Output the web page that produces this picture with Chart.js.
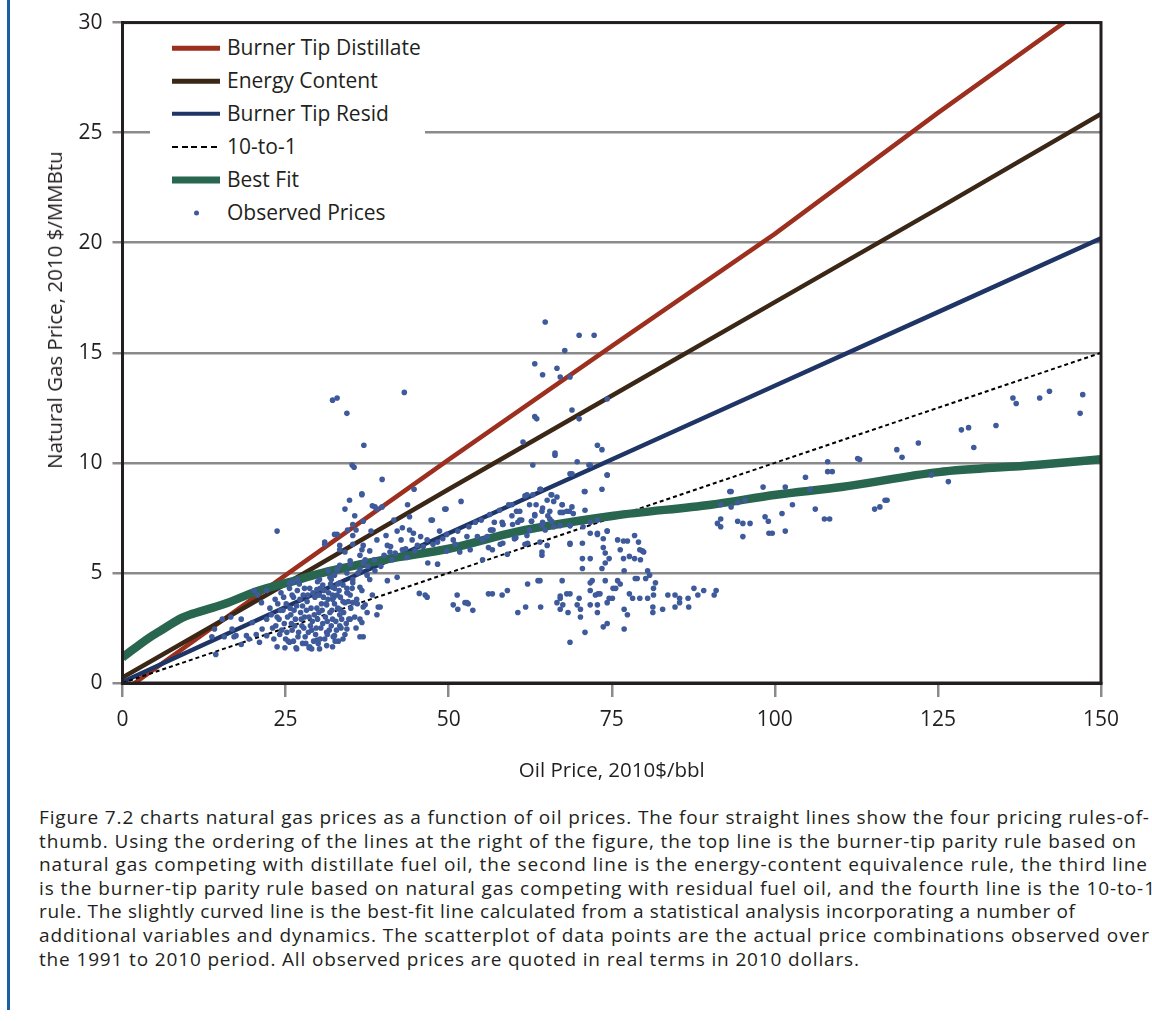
<!DOCTYPE html>
<html>
<head>
<meta charset="utf-8">
<title>Natural gas vs oil prices</title>
<script src="https://cdn.jsdelivr.net/npm/chart.js@4.4.1/dist/chart.umd.min.js"></script>
<style>
  html, body { margin: 0; padding: 0; background: #fff; }
  body { width: 1152px; height: 1021px; position: relative; overflow: hidden; font-family: "Open Sans", sans-serif; color: #231f20; }
  #rule { position: absolute; left: 7px; top: 0; width: 3px; height: 1010px; background: #1d5ea8; }
  #wrap { position: absolute; left: 0; top: 0; width: 1152px; height: 800px; }
  #yTitle { position: absolute; left: 54px; top: 310px; transform: translate(-50%, -50%) rotate(-90deg); white-space: nowrap; font-size: 20.5px; }
  #legend { position: absolute; left: 150px; top: 30px; width: 275px; height: 198px; background: #fff; }
  #legend .row { position: absolute; left: 0; width: 275px; height: 30px; }
  #legend .swatch { position: absolute; left: 22px; width: 48px; top: 50%; transform: translateY(-50%); }
  #legend .dot { position: absolute; left: 44px; top: 50%; width: 5px; height: 5px; border-radius: 50%; transform: translateY(-50%); }
  #legend .label { position: absolute; left: 77px; top: 50%; transform: translateY(-54%); font-size: 21px; white-space: nowrap; }
  #caption { position: absolute; left: 39px; top: 806px; font-size: 19px; line-height: 23.6px; }
  #caption div { white-space: nowrap; }
</style>
</head>
<body>
<div id="rule"></div>
<div id="wrap"><canvas id="chart" width="1152" height="800"></canvas></div>
<div id="yTitle">Natural Gas Price, 2010 $/MMBtu</div>
<div id="legend"></div>
<div id="caption">
  <div data-w="1110">Figure 7.2 charts natural gas prices as a function of oil prices. The four straight lines show the four pricing rules-of-</div>
  <div data-w="1097">thumb. Using the ordering of the lines at the right of the figure, the top line is the burner-tip parity rule based on</div>
  <div data-w="1108">natural gas competing with distillate fuel oil, the second line is the energy-content equivalence rule, the third line</div>
  <div data-w="1116">is the burner-tip parity rule based on natural gas competing with residual fuel oil, and the fourth line is the 10-to-1</div>
  <div data-w="1036">rule. The slightly curved line is the best-fit line calculated from a statistical analysis incorporating a number of</div>
  <div data-w="1110">additional variables and dynamics. The scatterplot of data points are the actual price combinations observed over</div>
  <div data-w="820">the 1991 to 2010 period. All observed prices are quoted in real terms in 2010 dollars.</div>
</div>
<script>
const ruleOil = [0, 25, 50, 75, 100, 125, 150];
const distillateGas = [-0.4, 4.9, 10.15, 15.3, 20.4, 25.9, 31.2];
const energyGas = [0.25, 4.5, 8.8, 13.05, 17.3, 21.55, 25.85];
const residGas = [0.05, 3.45, 6.8, 10.15, 13.5, 16.85, 20.2];
const tenToOneGas = [0, 2.5, 5, 7.5, 10, 12.5, 15];

const bestFitOil = [0, 4.1, 5.6, 9.1, 10.7, 15.6, 20.7, 25.6, 30.5, 40.5, 50.2, 60.5, 75.3, 90.2, 100.2, 110.2, 125.1, 140, 150];
const bestFitGas = [1.16, 2.06, 2.33, 2.96, 3.14, 3.59, 4.18, 4.58, 4.99, 5.62, 6.11, 6.88, 7.6, 8.1, 8.55, 8.9, 9.58, 9.9, 10.17];

const seriesNames = ['Burner Tip Distillate', 'Energy Content', 'Burner Tip Resid', '10-to-1', 'Best Fit', 'Observed Prices'];

// [oil $/bbl, gas $/MMBtu]
const observedPrices = [
  [64.8,16.4],[70.0,15.8],[72.3,15.8],[67.8,15.1],[63.2,14.5],[64.4,14.0],[66.6,14.3],[67.1,13.9],[68.6,13.9],[74.3,12.9],
  [68.9,12.4],[70.0,12.0],[63.2,12.1],[63.5,12.0],[61.4,10.95],[72.8,10.8],[73.5,10.6],[66.3,10.45],[66.3,10.35],[62.9,9.9],
  [69.7,10.05],[71.7,9.9],[68.6,9.5],[74.3,9.45],[70.8,8.7],[73.5,8.8],
  [43.2,13.2],[32.2,12.85],[32.9,12.95],[34.4,12.25],[37.0,10.8],[35.2,9.9],[35.5,9.8],[39.8,9.25],[36.7,8.6],[44.7,8.8],
  [51.9,8.25],[49.6,7.9],[43.7,8.1],[38.3,8.05],[39.8,8.0],[23.7,6.9],[36.7,8.55],[38.7,8.0],[39.0,7.9],
  [62.0,8.55],[62.9,8.55],[64.0,8.8],[65.7,8.55],[66.6,8.45],[65.1,8.3],[67.4,8.1],[66.1,8.25],[64.4,7.95],[62.4,8.1],
  [60.9,7.8],[59.7,8.1],[56.3,7.65],[57.8,7.85],[63.2,7.65],[65.2,7.6],[68.5,7.8],[69.1,7.7],[67.5,7.75],[70.9,7.85],
  [55.0,7.4],[57.0,7.3],[59.8,7.2],[61.2,7.4],[62.7,7.35],[64.4,7.3],[65.8,7.35],[67.1,7.15],[68.6,7.15],[70.6,7.1],
  [71.7,7.3],[72.8,7.4],[56.6,6.95],[58.3,7.2],[62.4,6.95],[55.2,6.5],[56.7,6.05],[58.3,6.35],[60.1,6.55],[62.1,6.35],
  [64.3,5.8],[65.1,6.25],[68.6,6.35],[71.7,6.8],[72.8,6.75],[74.3,6.9],[55.2,5.6],[59.0,5.85],
  [61.7,8.5],[64.1,8.8],[65.8,8.55],[59.2,8.1],[60.4,7.8],[63.4,8.1],[67.4,8.1],[68.9,8.0],[64.3,7.8],[65.5,7.8],
  [67.1,7.75],[68.1,7.8],[59.7,7.6],[60.9,7.4],[62.7,7.35],[65.5,7.45],[58.3,7.2],[60.6,7.3],[63.2,7.6],[64.3,7.15],
  [66.1,7.1],[68.6,7.15],[62.0,6.7],[60.1,6.55],[61.7,6.3],[64.0,6.4],[64.3,5.95],[68.6,6.3],[70.5,6.35],[64.8,6.95],
  [70.9,8.7],[68.9,9.5],[71.5,9.9],[74.3,9.45],
  [72.8,6.8],[74.3,6.9],[73.7,6.55],[75.9,6.5],[76.8,6.45],[77.4,6.45],[78.5,6.7],[79.1,6.4],[79.3,6.05],[79.9,5.95],
  [76.3,6.05],[73.7,6.15],[74.0,5.9],[70.5,5.65],[71.7,5.65],[74.6,5.65],[76.8,5.65],[77.7,5.75],[78.5,5.65],[79.4,5.6],
  [79.7,6.0],[74.0,5.45],[73.5,5.2],[70.5,5.2],[76.9,5.1],[80.5,5.1],[80.8,4.9],[78.6,4.75],[78.9,4.75],[80.2,4.75],
  [81.7,4.55],[75.9,4.65],[76.3,4.5],[71.7,4.55],[72.0,4.65],[74.0,4.65],[81.4,4.3],[67.4,4.65],[63.7,4.65],[64.0,4.65],
  [62.1,4.5],[59.0,4.2],[56.7,4.05],
  [87.6,4.3],[89.1,4.2],[91.0,4.2],[90.7,4.0],[88.2,4.0],[86.7,3.85],[85.4,3.85],[84.7,4.0],[83.6,4.0],[81.4,4.0],
  [80.5,3.85],[79.3,3.85],[78.2,3.85],[77.7,4.05],[75.2,4.3],[75.6,4.3],[75.1,3.85],[74.6,3.85],[74.3,3.65],[72.9,4.05],
  [73.2,4.05],[72.5,4.0],[71.7,4.2],[70.0,3.85],[68.6,4.05],[67.1,3.95],[67.1,3.85],[68.1,4.05],[66.6,3.65],[67.5,3.55],
  [69.7,3.55],[71.7,3.55],[72.8,3.55],[70.2,3.35],[67.1,3.35],[68.3,3.2],[64.1,3.45],[61.8,3.45],[60.6,3.2],[70.2,3.0],
  [72.8,3.2],[76.9,3.35],[77.4,3.1],[81.3,3.45],[81.3,3.2],[82.8,3.35],[84.7,3.45],[86.8,3.45],[85.4,3.65],[74.3,2.7],
  [73.7,2.55],[76.9,2.45],[70.9,2.3],[68.6,1.85],
  [147.2,13.1],[146.8,12.25],[142.1,13.25],[140.6,12.95],[136.5,12.95],[137.0,12.7],[133.9,11.7],[130.5,10.7],[129.7,11.6],[128.6,11.5],
  [126.6,9.15],[124.0,9.45],[122.0,10.9],[119.5,10.25],[118.7,10.6],[117.2,8.3],[116.9,8.3],[116.1,8.0],[115.3,7.9],[113.0,10.15],
  [112.7,10.2],[108.8,9.6],[108.1,9.6],[108.1,10.05],[108.4,7.45],[107.6,7.45],[106.2,7.9],[105.4,8.8],[104.7,9.35],[102.7,8.1],
  [101.6,8.9],[101.1,7.7],[101.6,6.9],[99.6,6.8],[99.1,6.8],[99.0,7.35],[98.5,7.55],[98.2,8.9],[96.2,7.25],[95.1,7.25],
  [94.3,7.35],[95.1,6.65],[95.4,8.3],[94.3,8.2],[93.3,8.0],[93.3,8.7],[91.7,8.1],[91.7,7.45],[91.2,7.25],[91.7,7.1],[93.1,8.7],
  [41.6,7.4],[44.0,7.55],[47.3,7.4],[36.9,7.35],[35.8,6.95],[34.5,6.95],[42.9,7.05],[44.0,6.95],[45.7,6.65],[42.7,6.5],
  [42.1,6.9],[39.0,6.5],[40.6,6.25],[36.9,6.25],[35.3,6.7],[32.9,6.75],[33.3,6.25],[31.0,6.4],[34.1,5.95],[36.4,5.8],
  [37.9,6.0],[41.0,5.95],[41.3,5.6],[42.9,6.05],[44.4,6.5],[45.2,6.25],[46.7,6.5],[48.3,6.4],[49.7,6.75],[50.7,6.5],
  [52.8,6.65],[54.4,6.65],[55.9,6.65],[56.8,6.95],[58.2,7.3],[60.3,6.6],[57.9,6.3],[56.1,6.15],[53.3,6.05],[51.7,5.95],
  [49.7,6.0],[46.8,5.45],[48.3,5.4],[51.0,6.3],[36.9,5.45],[34.9,5.4],[32.9,5.15],[31.8,4.8],[33.3,4.55],[35.3,4.7],
  [37.9,4.7],[40.6,4.65],[30.7,4.45],[32.5,4.3],[34.5,4.1],[36.4,4.35],[30.2,4.0],[32.2,3.8],[34.1,3.65],[35.9,3.8],
  [31.3,3.55],[33.3,3.35],[36.9,3.45],[39.5,3.45],[45.5,4.07],[46.4,4.0],[46.7,3.9],[51.3,4.0],[52.8,3.65],[53.0,3.6],
  [50.7,3.55],[56.1,4.05],[58.2,4.0],[42.1,4.8],[47.5,7.4],[49.4,7.9],[56.4,6.95],[53.7,3.3],[52.5,3.65],[51.4,3.35],
  [36.9,2.1],[37.5,3.2],[36.4,2.9],
  [35.3,7.2],[32.5,6.75],[31.0,6.3],[33.3,6.05],[35.3,6.3],[36.7,6.05],[37.2,5.6],[34.9,5.55],[33.3,5.35],[31.5,5.1],
  [32.5,4.9],[34.4,5.0],[36.4,5.15],[37.5,4.9],[38.7,5.1],[35.3,4.55],[33.8,4.45],[32.2,4.35],[30.2,4.7],[25.6,4.55],
  [26.1,4.6],[26.8,4.7],[20.2,4.2],[22.1,4.2],[20.7,4.0],[32.2,4.0],[29.8,4.25],[34.4,4.1],[36.7,4.2],[38.3,4.0],
  [39.2,3.45],[37.2,3.55],[35.3,3.65],[39.0,3.1],[36.7,2.75],[34.9,2.9],[33.3,2.6],[36.4,2.1],[34.4,2.45],[32.5,2.15],
  [29.8,1.95],[31.3,1.7],[28.7,1.65],[27.6,1.8],[23.7,1.65],[25.6,1.85],[26.7,1.55],[32.2,1.65],[30.2,1.55],[29.0,1.55],
  [21.4,2.45],[19.9,2.75],[18.2,2.9],[16.8,2.45],[15.3,2.9],[14.1,2.45],[13.7,2.1],[14.3,1.3],[15.6,2.1],[17.1,2.1],
  [19.0,2.15],[20.5,2.2],[22.1,2.15],[18.2,1.75],[21.0,1.85],[21.3,3.65],[16.6,3.0],[17.4,2.15],[19.4,2.0],
  [22.1,2.9],[22.6,3.4],[23.0,2.5],[23.4,3.8],[23.7,3.0],[24.1,2.2],[24.3,4.1],[24.6,3.3],[24.8,2.7],[25.1,3.6],
  [25.4,1.9],[25.6,4.3],[25.8,3.1],[26.0,2.4],[26.2,3.9],[26.5,2.9],[26.7,3.5],[26.9,2.1],[27.1,4.5],[27.3,3.2],
  [27.5,2.6],[27.7,4.0],[27.9,3.0],[28.1,1.8],[28.3,3.7],[28.5,2.3],[28.7,4.3],[28.9,3.4],[29.1,2.8],[29.3,1.9],
  [29.5,3.9],[29.7,2.5],[29.9,4.6],[30.1,3.2],[30.3,2.0],[30.5,3.6],[30.7,2.7],[30.9,4.2],[31.1,3.0],[31.3,2.3],
  [31.5,3.8],[31.7,2.4],[31.9,4.5],[32.1,3.3],[32.3,2.1],[32.5,3.6],[32.7,2.8],[32.9,4.0],[33.1,1.9],[33.3,3.1],
  [33.5,2.5],[33.8,3.7],[34.1,2.2],[34.4,4.3],[34.7,2.9],[35.0,3.4],[24.9,1.6],[26.6,1.6],[28.6,1.6],[23.2,2.0],
  [27.8,2.5],[29.6,2.2],[31.4,2.2],[27.2,3.8],[29.4,3.1],[25.9,2.7],[32.2,2.9],[23.8,3.6],[24.4,2.4],[25.3,3.0],
  [26.3,3.3],[27.4,2.9],[28.2,3.3],[28.8,2.6],[29.9,2.9],[30.6,3.3],[31.2,3.6],[32.0,2.6],[33.0,3.4],[33.6,2.9],
  [34.6,3.7],[30.0,4.0],[28.4,4.0],[26.0,4.0],[31.6,4.1],[33.2,4.2],
  [24.0,2.9],[24.7,3.9],[25.2,2.3],[25.7,3.4],[26.4,2.6],[26.8,4.2],[27.6,3.5],[28.0,2.1],[28.6,3.0],[29.2,4.1],
  [29.8,3.4],[30.4,2.5],[30.8,3.9],[31.4,2.8],[31.8,3.2],[32.4,3.9],[32.8,2.4],[33.4,3.9],[33.9,3.2],[34.3,2.7],
  [34.9,4.0],[25.0,2.0],[26.2,1.9],[27.0,2.3],[29.0,2.4],[30.0,1.8],[31.0,2.0],[32.6,1.9],[33.8,2.0],[24.2,3.3],
  [23.5,2.6],[22.8,3.1],[27.9,4.3],[30.3,4.3],[32.0,4.7],[33.0,4.5],[35.2,4.3],[35.6,3.0],[35.8,2.5],[36.0,3.6],
  [38.6,5.6],[40.1,5.8],[41.8,5.9],[43.4,6.1],[44.8,6.0],[46.1,6.2],[47.6,6.3],[49.1,6.55],[37.6,5.3],[39.6,5.3],
  [36.1,5.0],[41.1,6.2],[43.6,5.7],[48.6,6.9],[51.4,6.9],[53.1,7.1],[54.1,7.3],[44.6,6.8],[40.4,6.7],[38.1,6.9],
  [35.6,7.6],[34.1,7.9],[34.8,8.3]
];

const colors = ['#9d2f1e', '#3b2716', '#1e3566', '#000000', '#286650', '#3e5a9b'];
const ink = '#231f20';
const gridGray = '#8a8a8c';

const toPoints = (xs, ys) => xs.map((x, i) => ({ x: x, y: ys[i] }));

function buildLegend() {
  const legend = document.getElementById('legend');
  const centers = [18, 51, 83.5, 117, 150, 183];
  seriesNames.forEach((name, i) => {
    let swatch;
    if (i === 3) {
      swatch = '<div class="swatch" style="height:2px;background:repeating-linear-gradient(90deg,#000 0 6px,transparent 6px 9.7px)"></div>';
    } else if (i === 5) {
      swatch = `<div class="dot" style="background:${colors[i]}"></div>`;
    } else {
      swatch = `<div class="swatch" style="height:${i === 4 ? 7 : 4.5}px;background:${colors[i]}"></div>`;
    }
    legend.innerHTML += `<div class="row" style="top:${centers[i] - 15}px">${swatch}<div class="label">${name}</div></div>`;
  });
}

function fitCaption() {
  document.querySelectorAll('#caption div').forEach(line => {
    const span = document.createElement('span');
    span.textContent = line.textContent;
    line.textContent = '';
    line.appendChild(span);
    const natural = span.getBoundingClientRect().width;
    const target = +line.dataset.w;
    const n = span.textContent.length - 1;
    line.style.letterSpacing = ((target - natural) / n) + 'px';
  });
}

const framePlugin = {
  id: 'frame',
  afterDatasetsDraw(chart) {
    const { ctx, chartArea: a } = chart;
    ctx.save();
    ctx.strokeStyle = ink;
    ctx.lineWidth = 3;
    ctx.strokeRect(a.left, a.top, a.right - a.left, a.bottom - a.top);
    ctx.restore();
  }
};

function drawChart() {
  const lineSet = (i, xs, ys, extra) => Object.assign({
    type: 'line',
    label: seriesNames[i],
    data: toPoints(xs, ys),
    borderColor: colors[i],
    borderWidth: 4.5,
    pointRadius: 0,
    pointHoverRadius: 0,
    fill: false,
    tension: 0,
    order: 5 - i
  }, extra || {});

  const tickFont = { family: 'Open Sans', size: 21 };

  new Chart(document.getElementById('chart').getContext('2d'), {
    data: {
      datasets: [
        lineSet(0, ruleOil, distillateGas),
        lineSet(1, ruleOil, energyGas),
        lineSet(2, ruleOil, residGas),
        lineSet(3, ruleOil, tenToOneGas, { borderWidth: 2, borderDash: [4, 3] }),
        lineSet(4, bestFitOil, bestFitGas, { borderWidth: 8.5, cubicInterpolationMode: 'monotone' }),
        {
          type: 'scatter',
          label: seriesNames[5],
          data: observedPrices.map(p => ({ x: p[0], y: p[1] })),
          pointRadius: 2.8,
          pointHoverRadius: 2.8,
          pointBorderWidth: 0,
          pointBackgroundColor: colors[5],
          order: 0
        }
      ]
    },
    options: {
      responsive: false,
      animation: false,
      events: [],
      layout: { padding: { top: 17, right: 51, left: 0, bottom: 0 } },
      plugins: { legend: { display: false }, tooltip: { enabled: false } },
      scales: {
        x: {
          type: 'linear',
          min: 0,
          max: 150,
          ticks: { stepSize: 25, font: tickFont, color: ink, padding: 10, maxRotation: 0 },
          grid: { drawOnChartArea: false, drawTicks: true, tickLength: 14, color: gridGray, lineWidth: 2.5 },
          border: { display: true, color: ink, width: 3 },
          title: { display: true, text: 'Oil Price, 2010$/bbl', font: { family: 'Open Sans', size: 20.5 }, color: ink, padding: { top: 4, bottom: 17 } },
          afterFit: s => { s.height = 117; }
        },
        y: {
          type: 'linear',
          min: 0,
          max: 30,
          ticks: { stepSize: 5, font: tickFont, color: ink, padding: 10 },
          grid: { color: gridGray, lineWidth: 2.5, tickLength: 10 },
          border: { display: true, color: ink, width: 3 },
          afterFit: s => { s.width = 122.5; }
        }
      }
    },
    plugins: [framePlugin]
  });
}

buildLegend();
document.fonts.load('21px "Open Sans"').then(() => {
  fitCaption();
  drawChart();
});
</script>
</body>
</html>
